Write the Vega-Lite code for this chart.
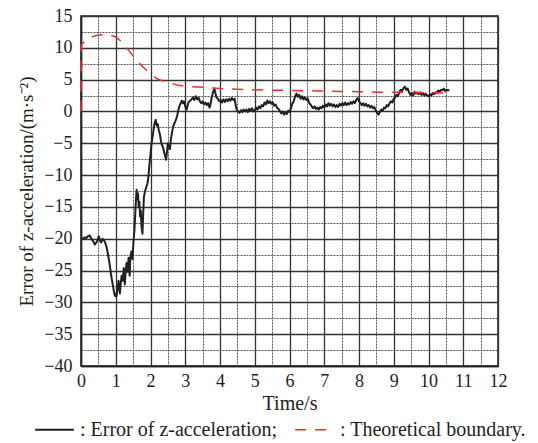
{
"$schema":"https://vega.github.io/schema/vega-lite/v6.json",
"width":417,"height":350,
"autosize":{"type":"none"},
"padding":{"left":81,"top":16,"right":40,"bottom":77},
"background":"white",
"config":{"font":"Liberation Serif","view":{"stroke":"#231f20","strokeWidth":1.5}},
"data":{"values":[
{"s":"a","t":0.00,"v":-19.9},{"s":"a","t":0.05,"v":-20.0},{"s":"a","t":0.10,"v":-19.8},{"s":"a","t":0.15,"v":-19.9},{"s":"a","t":0.20,"v":-19.6},{"s":"a","t":0.25,"v":-19.5},{"s":"a","t":0.30,"v":-20.0},{"s":"a","t":0.35,"v":-20.4},{"s":"a","t":0.40,"v":-20.9},{"s":"a","t":0.44,"v":-20.6},{"s":"a","t":0.48,"v":-20.2},{"s":"a","t":0.51,"v":-19.6},{"s":"a","t":0.55,"v":-20.3},{"s":"a","t":0.58,"v":-20.6},{"s":"a","t":0.62,"v":-20.0},{"s":"a","t":0.66,"v":-20.2},{"s":"a","t":0.70,"v":-20.7},{"s":"a","t":0.73,"v":-21.2},{"s":"a","t":0.76,"v":-22.0},{"s":"a","t":0.80,"v":-23.2},{"s":"a","t":0.83,"v":-24.2},{"s":"a","t":0.86,"v":-25.4},{"s":"a","t":0.89,"v":-26.5},{"s":"a","t":0.92,"v":-27.4},{"s":"a","t":0.95,"v":-28.4},{"s":"a","t":0.98,"v":-29.0},{"s":"a","t":1.00,"v":-28.7},{"s":"a","t":1.02,"v":-29.1},{"s":"a","t":1.04,"v":-28.3},{"s":"a","t":1.06,"v":-27.5},{"s":"a","t":1.08,"v":-26.6},{"s":"a","t":1.10,"v":-27.8},{"s":"a","t":1.12,"v":-28.6},{"s":"a","t":1.14,"v":-27.2},{"s":"a","t":1.17,"v":-25.8},{"s":"a","t":1.20,"v":-26.6},{"s":"a","t":1.23,"v":-24.6},{"s":"a","t":1.26,"v":-27.2},{"s":"a","t":1.28,"v":-25.5},{"s":"a","t":1.31,"v":-23.8},{"s":"a","t":1.34,"v":-25.2},{"s":"a","t":1.37,"v":-23.0},{"s":"a","t":1.40,"v":-25.8},{"s":"a","t":1.42,"v":-23.0},{"s":"a","t":1.45,"v":-22.0},{"s":"a","t":1.48,"v":-23.2},{"s":"a","t":1.51,"v":-20.5},{"s":"a","t":1.54,"v":-18.4},{"s":"a","t":1.56,"v":-16.2},{"s":"a","t":1.58,"v":-14.0},{"s":"a","t":1.60,"v":-12.3},{"s":"a","t":1.62,"v":-13.8},{"s":"a","t":1.64,"v":-12.9},{"s":"a","t":1.66,"v":-15.0},{"s":"a","t":1.68,"v":-14.2},{"s":"a","t":1.70,"v":-16.5},{"s":"a","t":1.72,"v":-15.6},{"s":"a","t":1.74,"v":-18.0},{"s":"a","t":1.77,"v":-19.2},{"s":"a","t":1.79,"v":-16.0},{"s":"a","t":1.81,"v":-13.5},{"s":"a","t":1.84,"v":-12.6},{"s":"a","t":1.87,"v":-12.0},{"s":"a","t":1.91,"v":-11.4},{"s":"a","t":1.94,"v":-10.2},{"s":"a","t":1.97,"v":-8.3},{"s":"a","t":2.00,"v":-6.8},{"s":"a","t":2.03,"v":-5.0},{"s":"a","t":2.06,"v":-4.0},{"s":"a","t":2.09,"v":-2.8},{"s":"a","t":2.12,"v":-1.8},{"s":"a","t":2.15,"v":-1.3},{"s":"a","t":2.18,"v":-2.2},{"s":"a","t":2.21,"v":-2.0},{"s":"a","t":2.24,"v":-3.0},{"s":"a","t":2.27,"v":-3.6},{"s":"a","t":2.30,"v":-4.6},{"s":"a","t":2.33,"v":-5.3},{"s":"a","t":2.36,"v":-5.6},{"s":"a","t":2.39,"v":-6.4},{"s":"a","t":2.42,"v":-6.9},{"s":"a","t":2.45,"v":-7.6},{"s":"a","t":2.47,"v":-6.6},{"s":"a","t":2.50,"v":-5.0},{"s":"a","t":2.53,"v":-5.6},{"s":"a","t":2.56,"v":-5.9},{"s":"a","t":2.59,"v":-4.2},{"s":"a","t":2.62,"v":-3.3},{"s":"a","t":2.65,"v":-2.4},{"s":"a","t":2.68,"v":-2.0},{"s":"a","t":2.71,"v":-1.6},{"s":"a","t":2.74,"v":-1.2},{"s":"a","t":2.77,"v":-0.6},{"s":"a","t":2.80,"v":0.2},{"s":"a","t":2.83,"v":0.8},{"s":"a","t":2.86,"v":1.2},{"s":"a","t":2.90,"v":1.7},{"s":"a","t":2.93,"v":1.3},{"s":"a","t":2.96,"v":1.6},{"s":"a","t":3.00,"v":0.8},{"s":"a","t":3.04,"v":0.3},{"s":"a","t":3.07,"v":1.0},{"s":"a","t":3.10,"v":1.5},{"s":"a","t":3.14,"v":1.7},{"s":"a","t":3.18,"v":1.9},{"s":"a","t":3.22,"v":2.2},{"s":"a","t":3.26,"v":1.8},{"s":"a","t":3.30,"v":2.4},{"s":"a","t":3.34,"v":1.9},{"s":"a","t":3.38,"v":2.2},{"s":"a","t":3.42,"v":1.6},{"s":"a","t":3.46,"v":1.3},{"s":"a","t":3.50,"v":1.6},{"s":"a","t":3.54,"v":1.1},{"s":"a","t":3.58,"v":1.4},{"s":"a","t":3.62,"v":1.0},{"s":"a","t":3.66,"v":1.3},{"s":"a","t":3.70,"v":0.6},{"s":"a","t":3.73,"v":1.2},{"s":"a","t":3.76,"v":2.2},{"s":"a","t":3.80,"v":3.0},{"s":"a","t":3.84,"v":3.6},{"s":"a","t":3.87,"v":2.8},{"s":"a","t":3.90,"v":2.2},{"s":"a","t":3.94,"v":2.0},{"s":"a","t":3.98,"v":1.6},{"s":"a","t":4.02,"v":1.8},{"s":"a","t":4.06,"v":1.4},{"s":"a","t":4.10,"v":1.9},{"s":"a","t":4.14,"v":1.5},{"s":"a","t":4.18,"v":1.9},{"s":"a","t":4.22,"v":1.6},{"s":"a","t":4.26,"v":2.0},{"s":"a","t":4.30,"v":1.7},{"s":"a","t":4.34,"v":2.1},{"s":"a","t":4.38,"v":1.8},{"s":"a","t":4.42,"v":2.0},{"s":"a","t":4.45,"v":1.0},{"s":"a","t":4.48,"v":0.3},{"s":"a","t":4.52,"v":0.0},{"s":"a","t":4.56,"v":-0.2},{"s":"a","t":4.60,"v":0.2},{"s":"a","t":4.64,"v":-0.1},{"s":"a","t":4.68,"v":0.3},{"s":"a","t":4.72,"v":0.0},{"s":"a","t":4.76,"v":0.3},{"s":"a","t":4.80,"v":-0.1},{"s":"a","t":4.84,"v":0.4},{"s":"a","t":4.88,"v":0.1},{"s":"a","t":4.92,"v":0.5},{"s":"a","t":4.96,"v":0.0},{"s":"a","t":5.00,"v":0.2},{"s":"a","t":5.04,"v":0.6},{"s":"a","t":5.08,"v":0.3},{"s":"a","t":5.12,"v":0.8},{"s":"a","t":5.16,"v":0.5},{"s":"a","t":5.20,"v":1.0},{"s":"a","t":5.24,"v":0.8},{"s":"a","t":5.28,"v":1.4},{"s":"a","t":5.32,"v":1.1},{"s":"a","t":5.36,"v":1.7},{"s":"a","t":5.40,"v":1.3},{"s":"a","t":5.44,"v":1.6},{"s":"a","t":5.48,"v":1.2},{"s":"a","t":5.52,"v":1.4},{"s":"a","t":5.56,"v":0.9},{"s":"a","t":5.60,"v":1.1},{"s":"a","t":5.64,"v":0.6},{"s":"a","t":5.68,"v":0.4},{"s":"a","t":5.72,"v":0.1},{"s":"a","t":5.76,"v":-0.3},{"s":"a","t":5.80,"v":0.0},{"s":"a","t":5.84,"v":-0.5},{"s":"a","t":5.88,"v":-0.2},{"s":"a","t":5.92,"v":-0.4},{"s":"a","t":5.96,"v":0.1},{"s":"a","t":6.00,"v":-0.1},{"s":"a","t":6.04,"v":0.5},{"s":"a","t":6.08,"v":1.2},{"s":"a","t":6.12,"v":1.6},{"s":"a","t":6.16,"v":2.3},{"s":"a","t":6.20,"v":2.8},{"s":"a","t":6.24,"v":2.3},{"s":"a","t":6.28,"v":2.6},{"s":"a","t":6.32,"v":2.0},{"s":"a","t":6.36,"v":2.4},{"s":"a","t":6.40,"v":1.9},{"s":"a","t":6.44,"v":2.2},{"s":"a","t":6.48,"v":1.8},{"s":"a","t":6.52,"v":2.1},{"s":"a","t":6.56,"v":1.4},{"s":"a","t":6.60,"v":1.1},{"s":"a","t":6.64,"v":0.8},{"s":"a","t":6.68,"v":0.5},{"s":"a","t":6.72,"v":0.8},{"s":"a","t":6.76,"v":0.4},{"s":"a","t":6.80,"v":0.6},{"s":"a","t":6.84,"v":0.3},{"s":"a","t":6.88,"v":0.7},{"s":"a","t":6.92,"v":0.5},{"s":"a","t":6.96,"v":0.9},{"s":"a","t":7.00,"v":0.6},{"s":"a","t":7.04,"v":1.1},{"s":"a","t":7.08,"v":0.8},{"s":"a","t":7.12,"v":1.3},{"s":"a","t":7.16,"v":0.9},{"s":"a","t":7.20,"v":1.2},{"s":"a","t":7.24,"v":0.8},{"s":"a","t":7.28,"v":1.1},{"s":"a","t":7.32,"v":0.7},{"s":"a","t":7.36,"v":1.0},{"s":"a","t":7.40,"v":0.7},{"s":"a","t":7.44,"v":1.2},{"s":"a","t":7.48,"v":0.9},{"s":"a","t":7.52,"v":1.3},{"s":"a","t":7.56,"v":1.0},{"s":"a","t":7.60,"v":1.4},{"s":"a","t":7.64,"v":1.0},{"s":"a","t":7.68,"v":1.3},{"s":"a","t":7.72,"v":1.1},{"s":"a","t":7.76,"v":1.5},{"s":"a","t":7.80,"v":1.2},{"s":"a","t":7.84,"v":1.6},{"s":"a","t":7.88,"v":1.3},{"s":"a","t":7.92,"v":1.8},{"s":"a","t":7.96,"v":2.1},{"s":"a","t":8.00,"v":1.6},{"s":"a","t":8.04,"v":1.3},{"s":"a","t":8.08,"v":1.0},{"s":"a","t":8.12,"v":1.3},{"s":"a","t":8.16,"v":0.9},{"s":"a","t":8.20,"v":1.2},{"s":"a","t":8.24,"v":0.8},{"s":"a","t":8.28,"v":1.0},{"s":"a","t":8.32,"v":0.6},{"s":"a","t":8.36,"v":0.9},{"s":"a","t":8.40,"v":0.5},{"s":"a","t":8.44,"v":0.7},{"s":"a","t":8.48,"v":0.2},{"s":"a","t":8.52,"v":-0.2},{"s":"a","t":8.56,"v":-0.5},{"s":"a","t":8.60,"v":-0.1},{"s":"a","t":8.64,"v":0.3},{"s":"a","t":8.68,"v":0.1},{"s":"a","t":8.72,"v":0.6},{"s":"a","t":8.76,"v":0.5},{"s":"a","t":8.80,"v":1.0},{"s":"a","t":8.84,"v":0.8},{"s":"a","t":8.88,"v":1.3},{"s":"a","t":8.92,"v":1.6},{"s":"a","t":8.96,"v":1.4},{"s":"a","t":9.00,"v":2.0},{"s":"a","t":9.04,"v":2.2},{"s":"a","t":9.08,"v":2.6},{"s":"a","t":9.12,"v":2.4},{"s":"a","t":9.16,"v":3.0},{"s":"a","t":9.20,"v":3.4},{"s":"a","t":9.24,"v":3.2},{"s":"a","t":9.28,"v":3.7},{"s":"a","t":9.32,"v":3.9},{"s":"a","t":9.36,"v":3.4},{"s":"a","t":9.40,"v":3.6},{"s":"a","t":9.44,"v":3.0},{"s":"a","t":9.48,"v":2.6},{"s":"a","t":9.52,"v":2.9},{"s":"a","t":9.56,"v":2.5},{"s":"a","t":9.60,"v":3.1},{"s":"a","t":9.64,"v":2.8},{"s":"a","t":9.68,"v":3.0},{"s":"a","t":9.72,"v":2.7},{"s":"a","t":9.76,"v":3.0},{"s":"a","t":9.80,"v":2.6},{"s":"a","t":9.84,"v":2.9},{"s":"a","t":9.88,"v":2.5},{"s":"a","t":9.92,"v":2.8},{"s":"a","t":9.96,"v":2.5},{"s":"a","t":10.00,"v":2.4},{"s":"a","t":10.04,"v":2.7},{"s":"a","t":10.08,"v":2.5},{"s":"a","t":10.12,"v":2.9},{"s":"a","t":10.16,"v":2.7},{"s":"a","t":10.20,"v":3.0},{"s":"a","t":10.24,"v":2.9},{"s":"a","t":10.28,"v":3.3},{"s":"a","t":10.32,"v":3.1},{"s":"a","t":10.36,"v":3.4},{"s":"a","t":10.40,"v":3.3},{"s":"a","t":10.44,"v":3.6},{"s":"a","t":10.48,"v":3.2},{"s":"a","t":10.52,"v":3.4},{"s":"a","t":10.56,"v":3.3},{"s":"a","t":10.60,"v":3.4},
{"s":"b","t":0,"v":0},{"s":"b","t":0,"v":10.4},{"s":"b","t":0.1,"v":11.0},{"s":"b","t":0.3,"v":11.7},{"s":"b","t":0.5,"v":12.0},{"s":"b","t":0.75,"v":12.15},{"s":"b","t":1.0,"v":11.7},{"s":"b","t":1.2,"v":10.8},{"s":"b","t":1.4,"v":9.4},{"s":"b","t":1.6,"v":8.0},{"s":"b","t":1.8,"v":6.9},{"s":"b","t":2.0,"v":5.9},{"s":"b","t":2.2,"v":5.1},{"s":"b","t":2.4,"v":4.7},{"s":"b","t":2.6,"v":4.4},{"s":"b","t":2.8,"v":4.1},{"s":"b","t":3.0,"v":3.95},{"s":"b","t":3.5,"v":3.8},{"s":"b","t":4.0,"v":3.6},{"s":"b","t":5.0,"v":3.4},{"s":"b","t":6.0,"v":3.3},{"s":"b","t":7.0,"v":3.2},{"s":"b","t":8.0,"v":3.1},{"s":"b","t":9.0,"v":3.0},{"s":"b","t":10.0,"v":2.95},{"s":"b","t":10.55,"v":2.9}
]},
"mark":{"type":"line","strokeJoin":"round","interpolate":"linear"},
"encoding":{
"x":{"field":"t","type":"quantitative","scale":{"domain":[0,12],"nice":false,"zero":false},
 "axis":{"values":[0,0.5,1,1.5,2,2.5,3,3.5,4,4.5,5,5.5,6,6.5,7,7.5,8,8.5,9,9.5,10,10.5,11,11.5,12],
  "labelExpr":"datum.value % 1 === 0 ? format(datum.value, 'd') : ''","title":"Time/s","titleFontSize":20,"titleFontWeight":"normal","titleColor":"#231f20","titlePadding":3,
  "labelFontSize":18,"labelColor":"#231f20","labelPadding":6,"labelFlush":false,"ticks":false,"domainColor":"#231f20","domainWidth":1.5,
  "grid":true,"gridColor":{"condition":{"test":"datum.value % 1 !== 0","value":"#555"},"value":"#333"},
  "gridDash":{"condition":{"test":"datum.value % 1 !== 0","value":[2,1]},"value":[]},
  "gridWidth":{"condition":{"test":"datum.value % 1 !== 0","value":1},"value":1.3},"gridOpacity":1}},
"y":{"field":"v","type":"quantitative","scale":{"domain":[-40,15],"nice":false,"zero":false},
 "axis":{"values":[-40,-37.5,-35,-32.5,-30,-27.5,-25,-22.5,-20,-17.5,-15,-12.5,-10,-7.5,-5,-2.5,0,2.5,5,7.5,10,12.5,15],
  "labelExpr":"datum.value % 5 === 0 ? format(datum.value, 'd') : ''","title":"Error of z-acceleration/(m·s⁻²)","titleFontSize":19,"titleFontWeight":"normal","titleColor":"#231f20","titlePadding":7,
  "labelFontSize":18,"labelColor":"#231f20","labelPadding":9,"labelFlush":false,"ticks":false,"domainColor":"#231f20","domainWidth":1.5,
  "grid":true,"gridColor":{"condition":{"test":"datum.value % 5 !== 0","value":"#555"},"value":"#333"},
  "gridDash":{"condition":{"test":"datum.value % 5 !== 0","value":[2,1]},"value":[]},
  "gridWidth":{"condition":{"test":"datum.value % 5 !== 0","value":1},"value":1.3},"gridOpacity":1}},
"color":{"field":"s","type":"nominal","scale":{"domain":["a","b"],"range":["#231f20","#e8302f"]},
 "legend":{"orient":"none","legendX":-47,"legendY":393,"direction":"horizontal","title":null,"symbolType":"stroke","symbolSize":1500,"symbolStrokeWidth":1.2,"labelFontSize":20,"labelColor":"#231f20","labelOffset":5,"columnPadding":14,"labelLimit":400,
  "labelExpr":"datum.value == 'a' ? ': Error of z-acceleration;' : ': Theoretical boundary.'"}},
"strokeDash":{"field":"s","type":"nominal","scale":{"domain":["a","b"],"range":[[1,0],[11,9]]},
 "legend":{"orient":"none","legendX":-47,"legendY":393,"direction":"horizontal","title":null,"symbolType":"stroke","symbolSize":1500,"symbolStrokeWidth":1.2,"labelFontSize":20,"labelColor":"#231f20","labelOffset":5,"columnPadding":14,"labelLimit":400,
  "labelExpr":"datum.value == 'a' ? ': Error of z-acceleration;' : ': Theoretical boundary.'"}},
"strokeWidth":{"field":"s","type":"nominal","scale":{"domain":["a","b"],"range":[2,1.5]},"legend":null},
"order":{"value":null}
}
}
